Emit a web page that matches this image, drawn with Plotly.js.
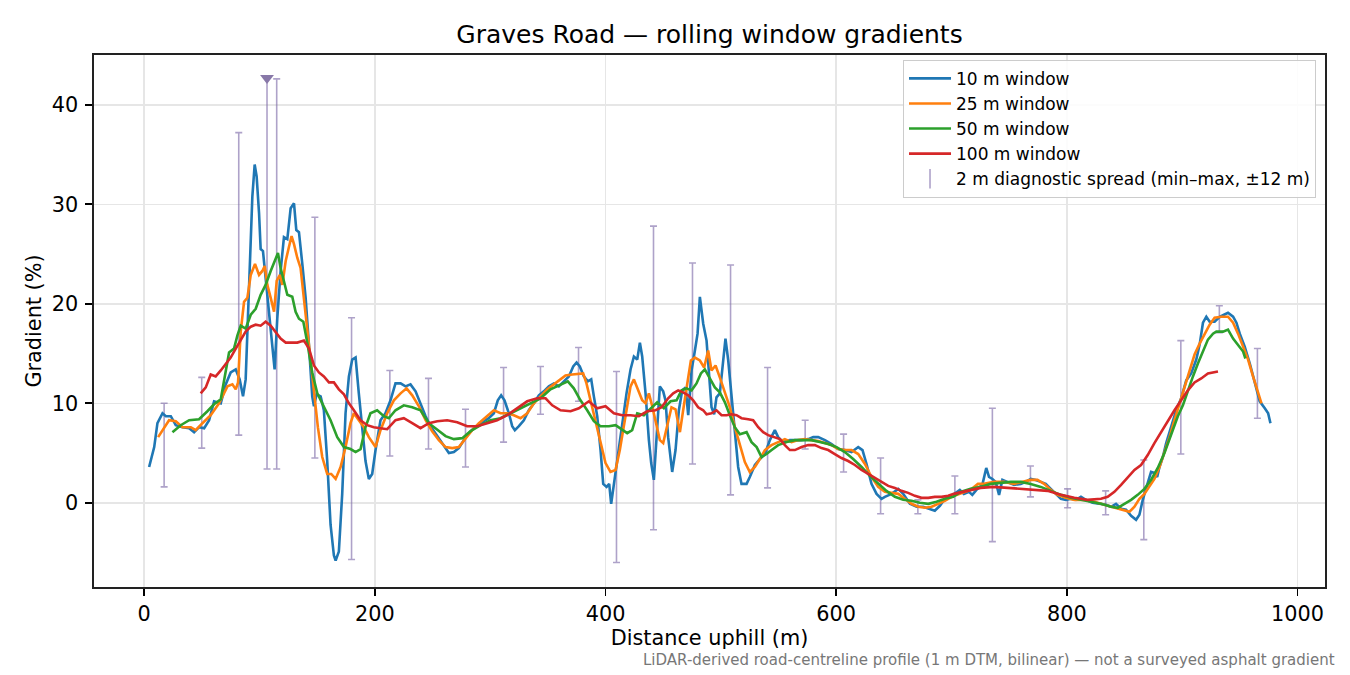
<!DOCTYPE html>
<html>
<head>
<meta charset="utf-8">
<script src="https://cdn.plot.ly/plotly-3.0.1.min.js"></script>
<style>
  html, body { margin: 0; padding: 0; background: #fff; }
  #chart { width: 1350px; height: 675px; }
</style>
</head>
<body>
<div id="chart"></div>
<script>
// distance (m), gradient (%) pairs
const win10 = [
  [4.3,3.6],[8.7,5.6],[11.5,8.0],[15.9,9.0],[18.8,8.7],[23.1,8.7],[27.4,7.8],[33.2,7.6],[39,7.5],[43.3,7.1],
  [47.6,7.6],[52,7.5],[56.3,8.3],[60.6,10.2],[66.4,10.0],[70.7,11.9],[75,13.1],[79.4,13.4],[82.8,12.4],[85.7,10.7],
  [88,12.4],[90.9,21.2],[93.8,30.8],[95.8,34.0],[97.5,32.8],[99.6,29.1],[101,25.5],[103,25.3],[105.3,22.6],[108.2,19.5],
  [111.1,16.1],[113.1,13.4],[115.4,18.5],[118.3,23.3],[121.2,26.7],[124.1,26.5],[127,29.6],[129.9,30.1],[131.9,27.4],[134.2,27.2],
  [137.1,24.0],[140,20.6],[142.9,15.8],[145.7,10.7],[147.2,9.7],[149.5,10.9],[153,10.7],[155.8,9.3],[158.7,4.2],[161.6,-2.2],
  [164.5,-5.3],[166,-5.8],[168.8,-4.9],[171.7,0.9],[174.6,9.0],[177.5,12.7],[180.4,14.4],[183.3,14.6],[186.1,11.0],[189,7.6],
  [191.9,4.2],[194.8,2.4],[197.7,2.9],[200.6,5.3],[204.9,8.3],[209.2,9.0],[213.6,10.3],[217.9,12.0],[222.3,12.0],[226.6,11.7],
  [230.9,11.9],[235.3,11.2],[239.6,10.0],[244,8.7],[248.3,7.7],[252.6,7.0],[257,6.3],[261.3,5.5],[264.2,5.0],[268.5,5.1],
  [272.8,5.5],[277.2,6.3],[281.5,7.0],[285.8,7.5],[290.2,7.8],[294.5,8.2],[298.8,8.5],[303.2,9.0],[306.6,10.3],[309.5,10.8],
  [312.4,10.3],[316.2,9.0],[319.1,7.7],[321.4,7.3],[324.9,7.7],[329.2,8.3],[333.5,9.3],[337.9,10.0],[342.2,10.8],[346.5,11.2],
  [350.9,11.7],[355.2,12.0],[359.5,11.7],[363.9,12.2],[368.2,12.7],[372,13.7],[374.9,14.1],[377.7,13.7],[381.2,12.7],[384.7,12.2],
  [387.6,12.4],[389.9,10.7],[392.8,8.7],[395.7,5.3],[398,1.9],[400.9,1.6],[403.2,1.9],[404.9,-0.1],[407.2,1.9],[410.7,5.0],
  [414.5,8.3],[418.2,11.0],[421.7,13.4],[424.6,14.7],[427.5,14.4],[429.8,16.1],[431.8,14.7],[434.7,11.0],[437.6,6.3],[439.6,4.0],
  [441.9,2.3],[444.2,7.0],[447.1,11.7],[450,11.2],[452,10.3],[454.3,6.6],[457.8,3.1],[460.7,5.3],[463.6,9.3],[466.5,11.3],
  [469.4,11.6],[471.7,8.8],[474.6,13.3],[477.5,15.3],[479.8,17.0],[481.8,20.7],[484.7,18.0],[487.6,16.3],[489.6,13.3],[491.9,9.6],
  [494.2,8.9],[496.2,10.6],[499.1,11.0],[502,14.6],[504,16.5],[506.4,14.3],[509.2,10.6],[512.1,6.6],[515,3.6],[517.9,1.9],
  [522.3,1.9],[525.1,2.6],[529.5,3.8],[533.8,4.4],[538.2,4.9],[542.5,6.3],[546.8,7.3],[549.7,6.6],[554,6.1],[559.8,6.3],
  [564.2,6.3],[569.9,6.3],[575.7,6.4],[580.1,6.6],[584.4,6.6],[590.2,6.3],[596,5.9],[601.7,5.4],[607.5,5.3],[613.3,5.1],
  [619.1,5.6],[622.8,5.3],[626.3,3.9],[630.6,1.9],[635,0.9],[639.3,0.4],[642.2,0.6],[648,0.9],[653.8,1.4],[658.1,0.9],
  [663.9,-0.1],[669.7,-0.4],[675.4,-0.4],[681.2,-0.6],[685.5,-0.8],[689.9,-0.3],[694.2,0.4],[700,0.7],[704.3,1.1],[707.2,1.3],
  [710.7,0.9],[715.1,1.1],[718,0.8],[722.3,1.4],[726.7,1.8],[730.1,3.5],[732.5,2.6],[735.4,2.4],[738.3,2.1],[741.2,0.8],
  [744.1,2.3],[748.4,2.1],[754.2,1.8],[760,1.9],[764.3,2.1],[768.7,2.4],[773,2.3],[777.4,2.1],[781.7,1.9],[786.1,1.4],
  [790.4,0.9],[794.8,0.4],[799.1,0.3],[803.5,0.4],[807.8,0.3],[812.2,0.6],[816.5,0.3],[822.3,0.0],[828.1,-0.1],[833.9,-0.2],
  [838.3,-0.4],[842.6,-0.1],[847,-0.6],[851.3,-0.7],[855.7,-1.3],[860,-1.7],[862.9,-1.2],[865.8,0.3],[869.6,1.8],[873,3.1],
  [875.9,3.0],[878.3,2.6],[880.3,3.6],[883.2,4.6],[886.1,6.0],[890.4,7.7],[894.8,9.3],[899.1,10.5],[903.5,12.3],[907.8,13.0],
  [912.2,14.4],[915.1,15.9],[918,18.1],[920.9,18.7],[923.8,18.2],[928.1,18.2],[932.5,18.7],[936.2,18.9],[939.7,19.1],[944.1,18.7],
  [947,18.1],[949.9,17.0],[954.2,15.7],[958.6,14.0],[962.9,12.0],[967.2,10.2],[971.6,9.5],[974.5,9.0],[976.5,8.0]
];

const win25 = [
  [12.1,6.6],[17.3,7.6],[21.6,8.3],[27.4,8.2],[33.2,7.6],[40.4,7.6],[44.7,7.3],[50.5,8.0],[57.7,8.8],[64.9,10.0],
  [72.2,11.7],[76.5,11.9],[79.4,11.4],[81.4,12.1],[83.7,17.2],[86.6,20.2],[89.5,20.6],[92.4,22.9],[96.1,24.0],[99.6,22.9],
  [102.5,23.3],[104.5,23.8],[106.8,21.9],[109.7,20.6],[112.6,19.2],[114.9,22.3],[117.7,22.9],[119.8,21.9],[122.7,24.3],[125.5,25.7],
  [127.8,26.8],[129.9,26.0],[132.8,24.6],[135.6,23.6],[139.1,19.9],[142.9,15.5],[147.2,11.0],[150.6,7.6],[154.4,4.6],[158.7,2.9],
  [162.2,2.9],[166,2.4],[170.3,3.6],[174.6,5.6],[178.9,8.0],[181.8,9.0],[186.1,8.3],[190.5,7.6],[194.8,6.6],[200.6,5.6],
  [204.9,7.3],[210.7,9.0],[216.5,10.3],[222.3,11.0],[227.5,11.5],[232.4,10.8],[238.2,9.7],[244,8.3],[249.7,7.2],[255.5,6.3],
  [261.3,5.6],[267.1,5.5],[272.8,5.6],[278.6,6.5],[284.4,7.3],[290.2,8.0],[297.4,8.7],[303.2,9.3],[309,9.0],[314.7,9.0],
  [320.5,8.8],[326.3,8.5],[332.1,9.0],[337.9,10.0],[343.6,10.7],[349.4,11.4],[355.2,11.9],[361,12.4],[365.3,12.8],[371.1,12.9],
  [376.9,13.0],[380.6,13.0],[383.5,12.0],[387,10.3],[391.3,8.3],[395.7,6.0],[400,4.0],[404.3,3.1],[408.7,3.3],[412.4,5.3],
  [417.3,8.7],[421.7,11.7],[424.6,12.4],[428,11.4],[431.8,10.3],[434.7,10.0],[437.6,11.0],[440.5,9.7],[444.2,7.7],[447.1,6.3],
  [450,6.0],[453.5,7.7],[457.2,9.6],[460.7,9.4],[464.5,7.1],[467.3,9.3],[470.2,11.3],[474,14.3],[477.5,14.6],[481.8,14.3],
  [485.5,13.6],[489,15.3],[491.9,13.3],[495.4,13.8],[499.1,12.6],[503.5,11.0],[507.8,9.6],[512.1,7.6],[516.5,5.9],[520.8,4.1],
  [525.1,3.1],[529.5,3.6],[533.8,4.4],[538.2,5.3],[543.9,5.8],[549.7,6.1],[555.5,6.4],[561.3,6.1],[567.1,6.3],[572.8,6.4],
  [578.6,6.3],[584.4,6.2],[590.2,6.0],[596,5.8],[601.7,5.4],[607.5,5.3],[613.3,5.3],[619.1,4.9],[624.9,3.9],[630.6,2.6],
  [636.4,1.6],[642.2,1.1],[648,1.0],[653.8,0.9],[659.5,0.4],[665.3,-0.1],[671.1,-0.4],[676.9,-0.5],[682.7,-0.4],[688.4,-0.1],
  [694.2,0.2],[700,0.6],[707.8,0.9],[716.5,1.3],[722.9,1.9],[728.1,1.9],[736.8,2.1],[745.5,2.1],[754.2,1.9],[762.9,2.1],
  [768.7,2.3],[774.5,2.3],[780.3,1.9],[786.1,1.3],[791.9,0.8],[799.1,0.5],[806.4,0.3],[815.1,0.3],[823.8,0.1],[832.5,-0.2],
  [841.2,-0.5],[848.4,-0.7],[854.2,-0.9],[858.6,-0.4],[862.9,0.4],[867.2,0.9],[871.6,1.6],[875.9,2.4],[880.3,3.6],[884.6,5.0],
  [889,6.6],[893.3,8.3],[897.7,10.0],[902,11.7],[906.4,13.4],[910.7,14.9],[915.1,16.0],[919.4,16.9],[923.8,17.9],[928.1,18.6],
  [933.9,18.7],[939.7,18.7],[944.1,18.1],[948.4,17.0],[952.8,15.7],[957.1,14.4],[961.4,12.7],[965.8,11.2],[968.7,10.0]
];

const win50 = [
  [24.5,7.1],[31.7,7.8],[39,8.3],[47.6,8.4],[54.8,9.2],[60.6,9.9],[66.4,10.4],[70.7,13.1],[73.6,15.1],[77.9,15.5],
  [80.8,16.8],[83.7,17.8],[88,17.5],[92.4,18.9],[96.7,19.5],[101,20.9],[105.3,21.9],[109.7,23.3],[114,24.6],[116,25.1],
  [118.3,23.6],[121.2,22.3],[124.1,20.9],[128.4,20.7],[131.3,19.2],[134.2,18.5],[138,18.2],[141.4,16.1],[145.7,13.1],[150.1,11.0],
  [155.8,9.7],[161.6,8.3],[167.4,6.6],[173.2,5.6],[178.9,5.4],[183.3,5.1],[187.6,5.4],[191.9,7.6],[196.2,9.0],[202,9.3],
  [207.8,8.7],[212.1,8.5],[217.9,9.3],[225.1,9.8],[232.4,9.6],[239.6,9.3],[246.8,8.0],[254.1,7.3],[261.3,6.7],[268.5,6.4],
  [275.8,6.5],[283,7.2],[291.7,7.8],[300.3,8.3],[309,8.5],[317.7,9.0],[326.3,9.5],[335,10.0],[343.6,10.5],[352.3,11.4],
  [361,11.9],[367.3,12.2],[372.5,11.5],[378.3,10.3],[384.1,9.3],[389.9,8.2],[395.7,7.7],[402.9,7.7],[408.7,7.8],[414.5,7.3],
  [418.8,7.0],[423.1,7.3],[427.5,9.0],[433.2,8.8],[439,9.5],[444.8,10.1],[450.6,9.5],[456.4,10.2],[461.6,10.3],[465.9,11.3],
  [470.2,11.5],[474.6,11.3],[478.9,12.0],[482.7,13.0],[486.1,13.4],[490.5,12.5],[494.8,11.6],[499.1,11.1],[503.5,10.1],[507.8,8.8],
  [512.1,7.6],[516.5,6.9],[522.3,7.1],[526.6,6.1],[531,5.6],[535.3,4.6],[539.6,4.9],[544,5.3],[549.7,5.8],[557,6.1],
  [564.2,6.3],[571.4,6.3],[578.6,6.3],[585.8,6.1],[593.1,5.9],[600.3,5.6],[607.5,5.1],[614.7,4.4],[622,3.6],[629.2,2.7],
  [636.4,1.9],[643.6,1.2],[650.9,0.6],[658.1,0.3],[665.3,0.2],[672.5,0.0],[679.8,-0.1],[687,0.1],[694.2,0.4],[701.4,0.6],
  [707.8,1.1],[716.5,1.4],[725.2,1.6],[733.9,1.9],[742.6,2.0],[751.3,2.1],[760,2.1],[768.7,1.9],[777.4,1.6],[786.1,1.2],
  [794.8,0.8],[803.5,0.5],[812.2,0.3],[820.9,0.1],[829.6,-0.1],[838.3,-0.4],[844.1,-0.5],[849.9,-0.1],[855.7,0.3],[861.4,0.8],
  [867.2,1.4],[873,2.3],[878.8,3.5],[884.6,5.0],[890.4,6.8],[896.2,8.7],[900.6,9.8],[904.9,11.3],[909.3,12.7],[913.6,14.0],
  [918,15.2],[922.3,16.4],[926.7,17.0],[929.6,17.2],[935.4,17.2],[939.7,17.4],[944.1,16.5],[948.4,15.9],[952.8,15.2],[954.8,14.5]
];

const win100 = [
  [49,11.0],[53.4,11.6],[57.7,12.9],[62,12.7],[66.4,13.3],[70.7,13.9],[75,14.6],[79.4,15.5],[83.7,16.3],[88,17.2],
  [92.4,17.7],[96.7,17.9],[101,17.8],[105.3,18.2],[109.7,17.8],[114,17.2],[118.3,16.5],[122.7,16.1],[127,16.1],[132.8,16.1],
  [138.5,16.3],[142.9,15.5],[147.2,13.8],[151.5,13.1],[155.8,12.7],[160.2,12.1],[164.5,12.1],[168.8,11.4],[173.2,10.9],[177.5,10.0],
  [181.8,9.3],[187.6,8.3],[193.4,7.8],[199.1,7.6],[204.9,7.5],[210.7,7.4],[217.9,8.3],[225.1,8.5],[232.4,8.0],[239.6,7.5],
  [246.8,8.0],[254.1,8.2],[262.7,8.3],[271.4,8.1],[280,7.7],[288.7,7.7],[297.4,8.0],[306,8.3],[314.7,8.8],[323.4,9.5],
  [332.1,10.2],[340.8,10.5],[348,10.5],[353.8,9.8],[361,9.3],[369.7,9.2],[376.9,9.5],[385.5,10.2],[392.8,9.5],[400,9.7],
  [407.2,9.0],[414.5,8.8],[421.7,8.8],[428.9,8.7],[436.1,9.2],[443.4,9.3],[448.6,9.6],[454.3,10.5],[458.7,11.0],[463,11.3],
  [467.3,11.1],[471.7,10.8],[476,10.3],[480.3,9.6],[484.7,9.3],[487.6,8.9],[491.9,9.0],[496.2,9.3],[500.6,8.8],[504.9,8.8],
  [509.2,8.9],[513.6,8.8],[517.9,8.5],[523.7,8.4],[528,8.3],[532.4,7.6],[536.7,7.1],[541,6.8],[546.8,6.6],[551.2,6.4],
  [555.5,5.8],[559.8,5.3],[564.2,5.3],[570,5.6],[575.7,5.8],[581.5,5.8],[587.3,5.5],[593.1,5.3],[598.8,4.9],[604.6,4.5],
  [610.4,4.2],[616.2,3.8],[622,3.3],[627.7,2.9],[633.5,2.5],[639.3,2.1],[645.1,1.7],[650.9,1.5],[656.6,1.2],[662.4,1.0],
  [668.2,0.7],[674,0.5],[679.8,0.5],[685.5,0.6],[691.3,0.6],[697.1,0.7],[702,0.9],[713.6,1.2],[725.2,1.5],[736.8,1.6],
  [748.4,1.5],[760,1.4],[771.6,1.3],[783.2,1.2],[794.8,0.8],[806.4,0.5],[818,0.3],[829.6,0.4],[835.4,0.6],[841.2,1.1],
  [847,1.8],[852.8,2.6],[858.6,3.3],[864.3,3.8],[870.1,4.8],[875.9,6.0],[881.7,7.1],[887.5,8.3],[893.3,9.3],[899.1,10.3],
  [904.9,11.3],[910.7,12.1],[916.5,12.5],[922.3,13.0],[928.1,13.1],[931,13.2]
];

// 2 m diagnostic spread: min-max over +-12 m
const spreadX = [17.3, 49.9, 82, 106.5, 114.9, 148, 179.8, 213, 246.5, 278.6, 311.6, 343.6, 376.6, 409.5, 441.6,
  475.4, 508.4, 540.5, 573.1, 606.4, 638.5, 670.8, 702.9, 735.4, 768.4, 800.6, 833.6, 866.7, 898.8, 932.2, 965.2];
const spreadLo = [1.6, 5.5, 6.8, 3.4, 3.4, 4.5, -5.7, 4.7, 5.4, 3.6, 6.1, 8.9, 10.2, -6.0, -2.7,
  3.9, 0.8, 1.5, 5.4, 3.1, -1.1, -1.1, -1.1, -3.9, 0.6, -0.5, -1.2, -3.7, 4.9, 17.1, 8.5];
const spreadHi = [10.0, 12.6, 37.2, 42.7, 42.6, 28.7, 18.6, 13.3, 12.5, 9.4, 13.6, 13.7, 15.6, 13.2, 27.8,
  24.1, 23.9, 13.6, 8.3, 6.9, 4.5, 0.3, 2.7, 9.5, 3.7, 1.4, 1.2, 4.3, 16.3, 19.8, 15.5];

// spread clipped at the top of the view
const peakX = [106.5];
const peakY = [42.7];

const seriesNames = ["10 m window", "25 m window", "50 m window", "100 m window"];
const seriesColors = ["#1f77b4", "#ff7f0e", "#2ca02c", "#d62728"];
const spreadName = "2 m diagnostic spread (min\u2013max, \u00b112 m)";
const spreadColor = "rgba(120,100,165,0.6)";

const FONT = "DejaVu Sans, sans-serif";

const spreadMid = spreadX.map((_, i) => (spreadLo[i] + spreadHi[i]) / 2);

const data = [
  {
    x: spreadX,
    y: spreadMid,
    type: "scatter",
    mode: "markers",
    marker: { size: 1, color: "rgba(0,0,0,0)" },
    error_y: {
      type: "data",
      symmetric: false,
      array: spreadHi.map((v, i) => v - spreadMid[i]),
      arrayminus: spreadLo.map((v, i) => spreadMid[i] - v),
      color: spreadColor,
      thickness: 1.6,
      width: 3.5,
    },
    showlegend: false,
    hoverinfo: "skip",
  },
  {
    x: peakX,
    y: peakY,
    type: "scatter",
    mode: "markers",
    marker: { symbol: "triangle-down", size: 12, color: "#8878a8" },
    showlegend: false,
  },
];

[win10, win25, win50, win100].forEach((pts, i) => {
  data.push({
    x: pts.map((p) => p[0]),
    y: pts.map((p) => p[1]),
    type: "scatter",
    mode: "lines",
    name: seriesNames[i],
    line: { color: seriesColors[i], width: 2.6 },
  });
});

// legend-only entry for the spread bars
data.push({
  x: [null],
  y: [null],
  type: "scatter",
  mode: "markers",
  name: spreadName,
  marker: {
    symbol: "line-ns-open",
    size: 14,
    color: spreadColor,
    line: { color: spreadColor, width: 1.6 },
  },
});

const layout = {
  width: 1350,
  height: 675,
  margin: { l: 94, r: 25, t: 55, b: 88 },
  paper_bgcolor: "#fff",
  plot_bgcolor: "#fff",
  font: { family: FONT, size: 20.8, color: "#000" },
  title: {
    text: "Graves Road \u2014 rolling window gradients",
    font: { family: FONT, size: 25, color: "#000" },
    x: 0.5,
    xref: "paper",
    y: 1 - 34 / 675,
    yref: "container",
    yanchor: "middle",
  },
  xaxis: {
    range: [-43.5, 1023.8],
    tickvals: [0, 200, 400, 600, 800, 1000],
    ticks: "outside",
    ticklen: 7,
    tickwidth: 1.6,
    tickcolor: "#000",
    ticklabelstandoff: 0,
    tickfont: { family: FONT, size: 20.8, color: "#000" },
    showgrid: true,
    gridcolor: "#e6e6e6",
    gridwidth: 1.5,
    zeroline: false,
    showline: true,
    mirror: true,
    linecolor: "#222",
    linewidth: 1.6,
    automargin: false,
    title: { text: "Distance uphill (m)", font: { family: FONT, size: 20.8, color: "#000" }, standoff: 3 },
  },
  yaxis: {
    range: [-8.46, 45.0],
    tickvals: [0, 10, 20, 30, 40],
    ticks: "outside",
    ticklen: 7,
    tickwidth: 1.6,
    tickcolor: "#000",
    ticklabelstandoff: 3,
    tickfont: { family: FONT, size: 20.8, color: "#000" },
    showgrid: true,
    gridcolor: "#e6e6e6",
    gridwidth: 1.5,
    zeroline: false,
    showline: true,
    mirror: true,
    linecolor: "#222",
    linewidth: 1.6,
    automargin: false,
    title: { text: "Gradient (%)", font: { family: FONT, size: 20.8, color: "#000" }, standoff: 4 },
  },
  legend: {
    x: 0.9927,
    y: 0.991,
    xanchor: "right",
    yanchor: "top",
    bgcolor: "rgba(255,255,255,0.85)",
    bordercolor: "#cccccc",
    borderwidth: 1,
    itemwidth: 42,
    font: { family: FONT, size: 17, color: "#000" },
    traceorder: "normal",
  },
  annotations: [
    {
      text: "LiDAR-derived road-centreline profile (1 m DTM, bilinear) \u2014 not a surveyed asphalt gradient",
      xref: "paper",
      yref: "paper",
      x: (1336.5 - 94) / 1231,
      y: (587 - 671) / 532,
      xanchor: "right",
      yanchor: "bottom",
      showarrow: false,
      font: { family: FONT, size: 15, color: "#777" },
    },
  ],
};

Plotly.newPlot("chart", data, layout, { staticPlot: true });
</script>
</body>
</html>
